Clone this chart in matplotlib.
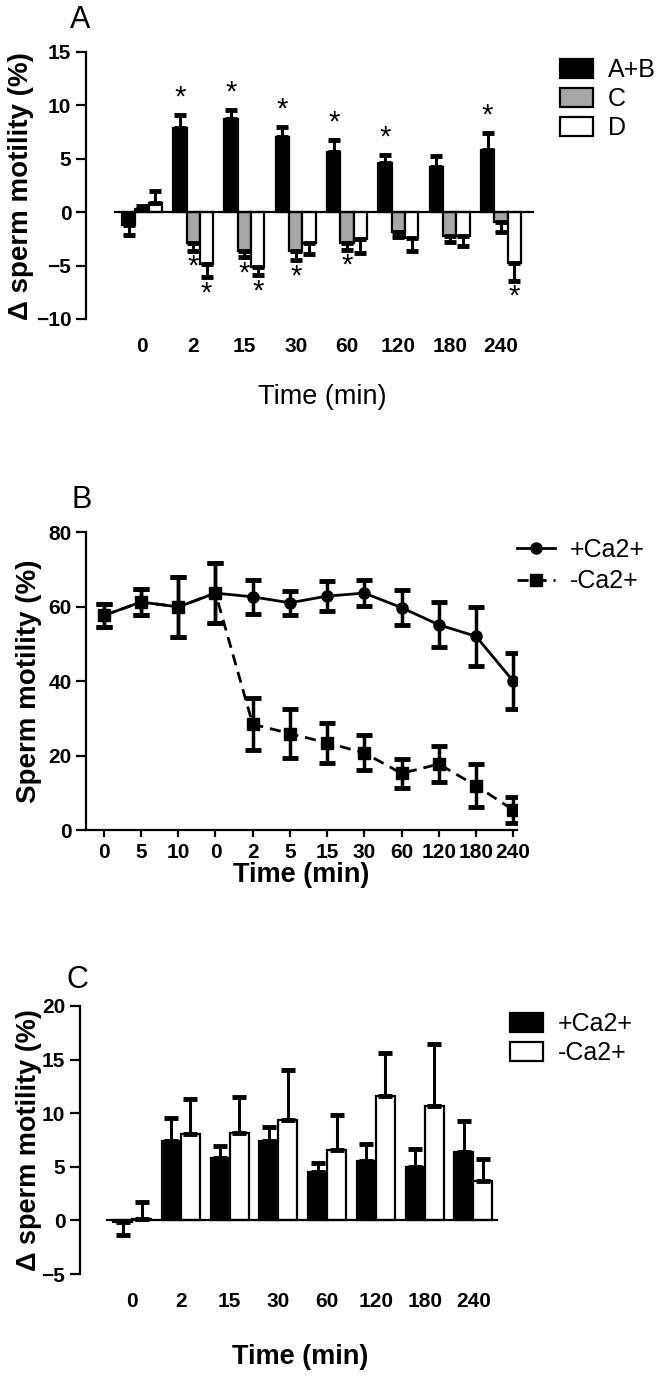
import numpy as np
import matplotlib
matplotlib.use('Agg')
from matplotlib import pyplot as plt

plt.rcParams['font.family'] = ['Liberation Sans', 'DejaVu Sans']

# ---- panel A data ----
groups = ['0', '2', '15', '30', '60', '120', '180', '240']
ab_mean = [-1.2, 7.9, 8.7, 7.0, 5.6, 4.6, 4.2, 5.8]
ab_err = [0.9, 1.2, 0.9, 1.0, 1.2, 0.8, 1.1, 1.6]
c_mean = [0.3, -2.9, -3.6, -3.6, -2.9, -1.9, -2.2, -0.9]
c_err = [0.3, 0.7, 0.6, 0.9, 0.6, 0.4, 0.6, 1.0]
d_mean = [0.9, -4.9, -5.1, -2.9, -2.5, -2.4, -2.2, -4.8]
d_err = [1.1, 1.2, 0.8, 1.0, 1.3, 1.2, 1.0, 1.6]
ab_star = [0, 1, 1, 1, 1, 1, 0, 1]
c_star = [0, 1, 1, 1, 1, 0, 0, 0]
d_star = [0, 1, 1, 0, 0, 0, 0, 1]

# ---- panel B data ----
b_labels = ['0', '5', '10', '0', '2', '5', '15', '30', '60', '120', '180', '240']
plus_ca = [57.6, 61.2, 59.9, 63.6, 62.6, 61.0, 62.8, 63.6, 59.7, 55.1, 52.0, 40.0]
plus_ca_err = [3.2, 3.6, 8.0, 8.0, 4.5, 3.2, 4.0, 3.5, 4.7, 6.0, 8.0, 7.5]
minus_ca = [57.6, 61.2, 59.9, 63.6, 28.4, 25.9, 23.4, 20.7, 15.2, 17.7, 11.9, 5.4]
minus_ca_err = [3.2, 3.6, 8.0, 8.0, 7.0, 6.5, 5.3, 4.7, 3.8, 4.8, 5.7, 3.5]

# ---- panel C data ----
plus_d = [-0.1, 7.4, 5.8, 7.4, 4.5, 5.5, 5.0, 6.4]
plus_d_err = [1.3, 2.2, 1.1, 1.3, 0.9, 1.6, 1.7, 2.9]
minus_d = [0.1, 8.1, 8.2, 9.4, 6.6, 11.6, 10.7, 3.7]
minus_d_err = [1.6, 3.2, 3.3, 4.6, 3.2, 4.0, 5.8, 2.0]

lw = 1.6
fig = plt.figure(figsize=(6.65, 13.79), dpi=100)


def style_axes(ax):
    for s in ['top', 'right']:
        ax.spines[s].set_visible(False)
    ax.spines['left'].set_linewidth(lw)
    ax.spines['bottom'].set_linewidth(lw)
    ax.tick_params(width=lw, length=7, labelsize=15)
    for t in ax.get_xticklabels() + ax.get_yticklabels():
        t.set_fontweight('bold')


def one_sided(vals, errs):
    lo = [e if v < 0 else 0 for v, e in zip(vals, errs)]
    hi = [e if v >= 0 else 0 for v, e in zip(vals, errs)]
    return [lo, hi]


leg_kw = dict(frameon=False, fontsize=18, handletextpad=0.6, borderpad=0,
              borderaxespad=0, bbox_transform=fig.transFigure, loc='upper left')

# ================= A =================
ax = fig.add_axes([0.1293, 0.7687, 0.678, 0.1936])
x = np.arange(len(groups))
w = 0.26
series = [(ab_mean, ab_err, 'black', 'A+B', -w, ab_star),
          (c_mean, c_err, '#a6a6a6', 'C', 0, c_star),
          (d_mean, d_err, 'white', 'D', w, d_star)]
for m, e, col, lab, off, st in series:
    ax.bar(x + off, m, w, color=col, edgecolor='black', linewidth=lw, label=lab, zorder=2)
    ax.errorbar(x + off, m, yerr=one_sided(m, e), fmt='none', ecolor='black',
                elinewidth=2.2, capsize=4.5, capthick=3.5, zorder=3)
    for i in range(len(m)):
        if st[i]:
            if m[i] >= 0:
                ax.text(x[i] + off, m[i] + e[i] + 0.3, '*', ha='center', va='bottom', fontsize=21)
            else:
                ax.text(x[i] + off, m[i] - e[i] - 0.2, '*', ha='center', va='top', fontsize=21)
ax.plot([-0.53, 7.62], [0, 0], color='black', lw=lw, zorder=4)
ax.set_xlim(-1.09, 7.7)
ax.set_ylim(-10, 15)
ax.set_yticks([-10, -5, 0, 5, 10, 15])
ax.set_xticks(x)
ax.set_xticklabels(groups)
ax.spines['bottom'].set_visible(False)
style_axes(ax)
ax.tick_params(axis='x', length=0, pad=13)
ax.set_ylabel('\u0394 sperm motility (%)', fontsize=20, fontweight='bold')
ax.yaxis.set_label_coords(34 / 665, 1 - 186 / 1379, transform=fig.transFigure)
fig.text(322 / 665, 1 - 397 / 1379, 'Time (min)', ha='center', va='center', fontsize=19.5)
fig.text(70 / 665, 1 - 20 / 1379, 'A', ha='left', va='center', fontsize=22)
ax.legend(bbox_to_anchor=(560 / 665, 1 - 58 / 1379), handlelength=1.3,
          handleheight=0.8, labelspacing=0.2, **leg_kw)

# ================= B =================
ax = fig.add_axes([0.1293, 0.3981, 0.648, 0.2161])
xb = np.arange(len(b_labels))
ax.errorbar(xb, plus_ca, yerr=plus_ca_err, fmt='none', ecolor='black',
            elinewidth=2.5, capsize=6, capthick=3.5, zorder=3)
ax.errorbar(xb, minus_ca, yerr=minus_ca_err, fmt='none', ecolor='black',
            elinewidth=2.5, capsize=6, capthick=3.5, zorder=3)
ax.plot(xb, plus_ca, color='black', lw=2, marker='o', ms=8, label='+Ca2+', zorder=4)
ax.plot(xb, minus_ca, color='black', lw=2, ls=(0, (4, 2.5)), marker='s', ms=8,
        label='-Ca2+', zorder=4)
ax.set_xlim(-0.48, 11.1)
ax.set_ylim(0, 80)
ax.set_yticks([0, 20, 40, 60, 80])
ax.set_xticks(xb)
ax.set_xticklabels(b_labels)
style_axes(ax)
ax.tick_params(axis='x', length=5, pad=4)
ax.set_ylabel('Sperm motility (%)', fontsize=20, fontweight='bold')
ax.yaxis.set_label_coords(42 / 665, 1 - 681 / 1379, transform=fig.transFigure)
ax.set_xlabel('Time (min)', fontsize=19.5, fontweight='bold', labelpad=0)
fig.text(71 / 665, 1 - 500 / 1379, 'B', ha='left', va='center', fontsize=22)
ax.legend(bbox_to_anchor=(517 / 665, 1 - 538 / 1379), handlelength=1.5,
          labelspacing=0.3, **leg_kw)

# ================= C =================
ax = fig.add_axes([0.1203, 0.0761, 0.632, 0.1944])
w = 0.39
for m, e, col, lab, off in [(plus_d, plus_d_err, 'black', '+Ca2+', -w / 2),
                            (minus_d, minus_d_err, 'white', '-Ca2+', w / 2)]:
    ax.bar(x + off, m, w, color=col, edgecolor='black', linewidth=lw, label=lab, zorder=2)
    ax.errorbar(x + off, m, yerr=one_sided(m, e), fmt='none', ecolor='black',
                elinewidth=2.2, capsize=5, capthick=3.5, zorder=3)
ax.plot([-0.51, 7.49], [0, 0], color='black', lw=lw, zorder=4)
ax.set_xlim(-1.07, 7.55)
ax.set_ylim(-5, 20)
ax.set_yticks([-5, 0, 5, 10, 15, 20])
ax.set_xticks(x)
ax.set_xticklabels(groups)
ax.spines['bottom'].set_visible(False)
style_axes(ax)
ax.tick_params(axis='x', length=0, pad=13)
ax.set_ylabel('\u0394 sperm motility (%)', fontsize=19.5, fontweight='bold')
ax.yaxis.set_label_coords(42 / 665, 1 - 1140 / 1379, transform=fig.transFigure)
fig.text(300 / 665, 1 - 1357 / 1379, 'Time (min)', ha='center', va='center',
         fontsize=19.5, fontweight='bold')
fig.text(67 / 665, 1 - 980 / 1379, 'C', ha='left', va='center', fontsize=22)
ax.legend(bbox_to_anchor=(510 / 665, 1 - 1012 / 1379), handlelength=1.3,
          handleheight=0.8, labelspacing=0.2, **leg_kw)

plt.savefig('out.png', dpi=100)
